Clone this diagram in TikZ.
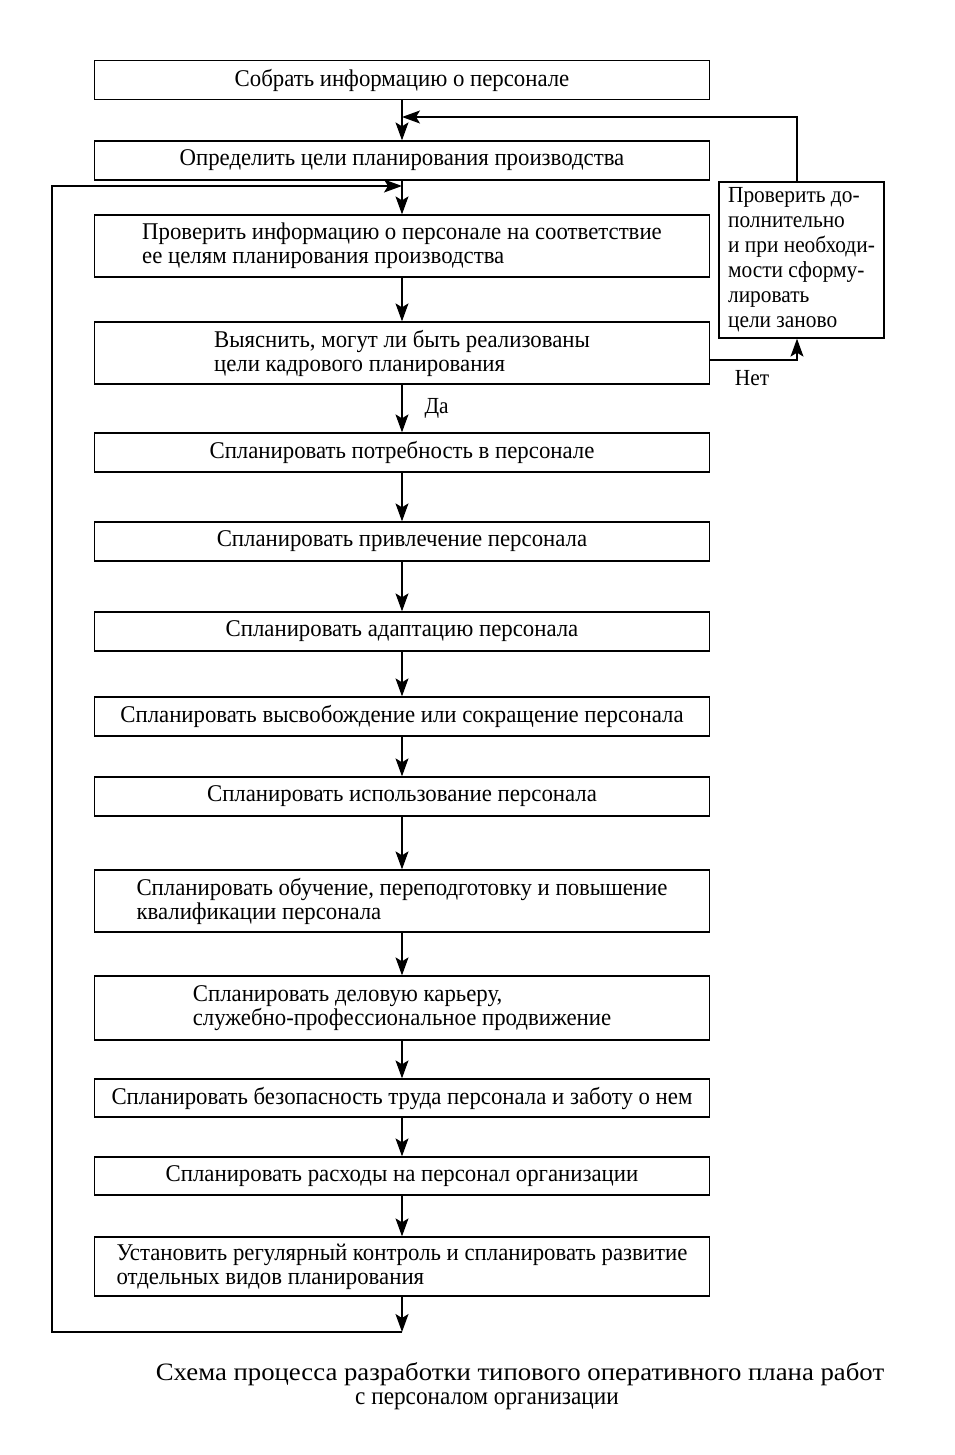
\documentclass[tikz,border=0pt]{standalone}
\usepackage{fontspec}
\setmainfont{Liberation Serif}[FakeStretch=0.95]
\newfontfamily\sidefont{Liberation Serif}[FakeStretch=0.93]
\newfontfamily\capwidefont{Liberation Serif}[FakeStretch=1.07]
\usetikzlibrary{arrows.meta,positioning}
\tikzset{
  box/.style={draw, line width=1.3pt, minimum width=615pt, align=left, inner sep=2pt,
    font=\fontsize{24}{24}\selectfont},
  sidebox/.style={draw, line width=1.3pt, minimum width=165pt, minimum height=156pt, align=left, inner sep=2pt,
    font=\sidefont\fontsize{23}{25}\selectfont},
  arr/.style={-{Stealth[length=18pt,width=13pt,inset=4pt]}, line width=1.2pt},
  lbl/.style={font=\sidefont\fontsize{23}{24}\selectfont, inner sep=0pt},
  captxt/.style={font=\sidefont\fontsize{25}{26}\selectfont, inner sep=0pt},
  captxtwide/.style={font=\capwidefont\fontsize{25}{26}\selectfont, inner sep=0pt}
}
\begin{document}
\begin{tikzpicture}[x=1pt,y=-1pt]
\useasboundingbox[fill=white] (0,0) rectangle (954,1455);
\node[box, minimum height=39pt] (b1) at (402,80) {Собрать информацию о персонале};
\node[box, minimum height=39pt] (b2) at (402,160.5) {Определить цели планирования производства};
\node[box, minimum height=62pt] (b3) at (402,246) {Проверить информацию о персонале на соответствие\\ее целям планирования производства};
\node[box, minimum height=62pt] (b4) at (402,353) {Выяснить, могут ли быть реализованы\\цели кадрового планирования};
\node[sidebox] (side) at (801.5,260) {Проверить до-\\полнительно\\и при необходи-\\мости сформу-\\лировать\\цели заново};
\node[box, minimum height=39pt] (b5) at (402,452.5) {Спланировать потребность в персонале};
\node[box, minimum height=39pt] (b6) at (402,541.5) {Спланировать привлечение персонала};
\node[box, minimum height=39pt] (b7) at (402,631.5) {Спланировать адаптацию персонала};
\node[box, minimum height=39pt] (b8) at (402,716.5) {Спланировать высвобождение или сокращение персонала};
\node[box, minimum height=39pt] (b9) at (402,796.5) {Спланировать использование персонала};
\node[box, minimum height=62pt] (b10) at (402,901) {Спланировать обучение, переподготовку и повышение\\квалификации персонала};
\node[box, minimum height=64pt] (b11) at (402,1008) {Спланировать деловую карьеру,\\служебно-профессиональное продвижение};
\node[box, minimum height=38pt] (b12) at (402,1098) {Спланировать безопасность труда персонала и заботу о нем};
\node[box, minimum height=38pt] (b13) at (402,1176) {Спланировать расходы на персонал организации};
\node[box, minimum height=59pt] (b14) at (402,1266.5) {Установить регулярный контроль и спланировать развитие\\отдельных видов планирования};
\coordinate (rx) at (797,117);
\coordinate (ltop) at (402,186);
\coordinate (bot) at (402,1332);
\coordinate (lft) at (52,1332);
\draw[arr] (b1) -- (b2);
\draw[arr] (b2) -- (b3);
\draw[arr] (b3) -- (b4);
\draw[arr] (b4) -- node[lbl, right=22pt] (da) {Да} (b5);
\draw[arr] (b5) -- (b6);
\draw[arr] (b6) -- (b7);
\draw[arr] (b7) -- (b8);
\draw[arr] (b8) -- (b9);
\draw[arr] (b9) -- (b10);
\draw[arr] (b10) -- (b11);
\draw[arr] (b11) -- (b12);
\draw[arr] (b12) -- (b13);
\draw[arr] (b13) -- (b14);
\draw[arr] (b14) -- (bot);
\draw[arr] (bot) -- (lft) |- (ltop);
\draw[arr] ([yshift=-7pt]b4.east) -| (side.south -| rx);
\node[lbl] (net) at (752,378) {Нет};
\draw[arr] (side.north -| rx) -- (rx) -- (rx -| b1.south);
\node[captxtwide] (cap1) at (520,1374) {Схема процесса разработки типового оперативного плана работ};
\node[captxt] (cap2) at (487,1401) {с персоналом организации};
\end{tikzpicture}
\end{document}
